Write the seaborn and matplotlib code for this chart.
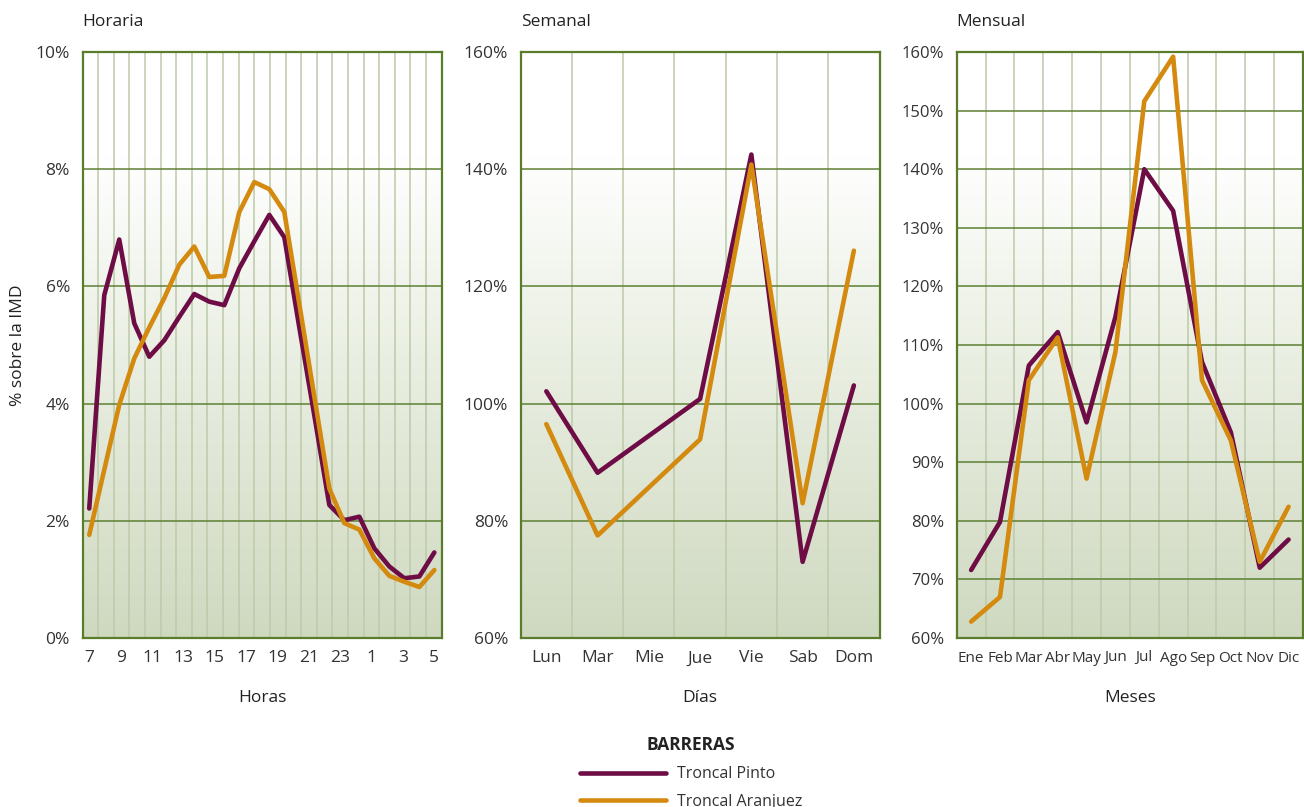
import numpy as np
import pandas as pd
import matplotlib
matplotlib.use("Agg")
import matplotlib.pyplot as plt
import seaborn as sns
from matplotlib.lines import Line2D
from matplotlib.colors import LinearSegmentedColormap

# ---------------- data ----------------
series = ["Troncal Pinto", "Troncal Aranjuez"]

hours = [7, 8, 9, 10, 11, 12, 13, 14, 15, 16, 17, 18, 19, 20, 21, 22, 23,
         0, 1, 2, 3, 4, 5, 6]
hour_tick_labels = ["7", "9", "11", "13", "15", "17", "19", "21", "23", "1", "3", "5"]
pinto_h = [2.21, 5.85, 6.80, 5.37, 4.80, 5.08, 5.48, 5.87, 5.74, 5.68, 6.31, 6.77,
           7.22, 6.84, 5.30, 3.80, 2.27, 2.01, 2.07, 1.53, 1.22, 1.02, 1.05, 1.46]
aranjuez_h = [1.76, 2.87, 3.98, 4.77, 5.30, 5.80, 6.37, 6.68, 6.16, 6.18, 7.27, 7.78,
              7.66, 7.27, 5.70, 4.12, 2.55, 1.96, 1.85, 1.36, 1.06, 0.96, 0.87, 1.16]

days = ["Lun", "Mar", "Mie", "Jue", "Vie", "Sab", "Dom"]
pinto_d = [102.1, 88.2, 94.5, 100.8, 142.5, 73.0, 103.1]
aranjuez_d = [96.5, 77.5, 85.7, 93.9, 140.8, 83.0, 126.1]

months = ["Ene", "Feb", "Mar", "Abr", "May", "Jun", "Jul", "Ago", "Sep", "Oct", "Nov", "Dic"]
pinto_m = [71.6, 79.8, 106.5, 112.2, 96.8, 114.8, 140.0, 132.9, 107.1, 95.1, 72.0, 76.8]
aranjuez_m = [62.8, 67.0, 104.0, 111.3, 87.2, 108.8, 151.6, 159.2, 104.0, 93.7, 73.0, 82.4]

colors = {"Troncal Pinto": "#6d0c45", "Troncal Aranjuez": "#d4890f"}

# ---------------- style ----------------
sns.set_theme(style="white")
plt.rcParams["font.family"] = ["Open Sans", "DejaVu Sans"]
TXT = "#333333"
HGRID = "#5d7f33"
VGRID = "#bccaa9"
SPINE = "#5a7d2c"


def long_df(cats, a, b):
    n = len(cats)
    return pd.DataFrame({
        "pos": list(range(n)) * 2,
        "val": list(a) + list(b),
        "serie": [series[0]] * n + [series[1]] * n,
    })


W, H = 1304, 807
fig = plt.figure(figsize=(W / 100, H / 100), dpi=100)

panels = [
    dict(px=(82.5, 441.7), df=long_df(hours, pinto_h, aranjuez_h), n=len(hours),
         xlim=(-0.45, 23.49), nb=23, yt=np.arange(0, 10.1, 2), ylim=(0, 10),
         title="Horaria", xlabel="Horas"),
    dict(px=(520.7, 879.5), df=long_df(days, pinto_d, aranjuez_d), n=len(days),
         xlim=(-0.5, 6.5), nb=7, yt=np.arange(60, 161, 20), ylim=(60, 160),
         title="Semanal", xlabel="Días"),
    dict(px=(956.7, 1303.0), df=long_df(months, pinto_m, aranjuez_m), n=len(months),
         xlim=(-0.5, 11.5), nb=12, yt=np.arange(60, 161, 10), ylim=(60, 160),
         title="Mensual", xlabel="Meses"),
]

top_px, bot_px = 52.0, 638.0

# background gradient (white on top -> sage at bottom)
grad_cmap = LinearSegmentedColormap.from_list(
    "bg", [(0.0, "#ffffff"), (0.18, "#ffffff"), (0.45, "#eef2e8"), (1.0, "#cfd9c0")])
grad = np.linspace(0, 1, 256).reshape(-1, 1)

axes = []
for i, p in enumerate(panels):
    x0, x1 = p["px"]
    ax = fig.add_axes([x0 / W, 1 - bot_px / H, (x1 - x0) / W, (bot_px - top_px) / H])
    axes.append(ax)
    ax.imshow(grad, extent=[0, 1, 0, 1], origin="upper", transform=ax.transAxes,
              aspect="auto", cmap=grad_cmap, zorder=0, interpolation="bilinear")
    sns.lineplot(data=p["df"], x="pos", y="val", hue="serie", palette=colors,
                 hue_order=series, estimator=None, sort=False, linewidth=3.3,
                 legend=False, ax=ax, zorder=5)
    ax.set_xlim(*p["xlim"])
    ax.set_ylim(*p["ylim"])
    # vertical band grid
    edges = np.linspace(p["xlim"][0], p["xlim"][1], p["nb"] + 1)[1:-1]
    for e in edges:
        ax.axvline(e, color=VGRID, lw=1.1, zorder=1)
    for yv in p["yt"][1:-1]:
        ax.axhline(yv, color=HGRID, lw=1.1, zorder=2)
    for s in ax.spines.values():
        s.set_color(SPINE)
        s.set_linewidth(1.6)
        s.set_visible(True)
    ax.set_yticks(p["yt"])
    ax.set_yticklabels([f"{int(v)}%" for v in p["yt"]])
    ax.tick_params(axis="both", length=0, colors=TXT, labelsize=12.5)
    ax.tick_params(axis="y", pad=9)
    ax.tick_params(axis="x", pad=9)
    ax.set_xlabel("")
    ax.set_ylabel("")
    ax.set_title(p["title"], loc="left", fontsize=12.5, color="#222222", pad=19)
    fig.text((x0 + x1) / 2 / W, 1 - 698 / H, p["xlabel"], ha="center", va="center",
             fontsize=12.5, color="#222222")

# x tick labels
axes[0].set_xticks(np.linspace(0, len(hours) - 1, len(hour_tick_labels)))
axes[0].set_xticklabels(hour_tick_labels)
axes[1].set_xticks(range(len(days)))
axes[1].set_xticklabels(days)
axes[2].set_xticks(range(len(months)))
axes[2].set_xticklabels(months, fontsize=11)
axes[2].tick_params(axis="y", labelsize=12)

fig.text(18 / W, 1 - 345 / H, "% sobre la IMD", rotation=90, ha="center", va="center",
         fontsize=12.5, color="#222222")

handles = [Line2D([0], [0], color=colors[s], lw=3.3) for s in series]
leg = fig.legend(handles, series, title="BARRERAS", loc="upper center",
                 bbox_to_anchor=(0.530, 0.106), frameon=False, handlelength=5.4,
                 fontsize=11.5, labelspacing=0.7, handletextpad=0.7,
                 title_fontproperties={"weight": "bold", "size": 12.5})
leg._legend_box.sep = 9
for t in leg.get_texts():
    t.set_color(TXT)
leg.get_title().set_color("#222222")

fig.savefig("out.png", dpi=100)
